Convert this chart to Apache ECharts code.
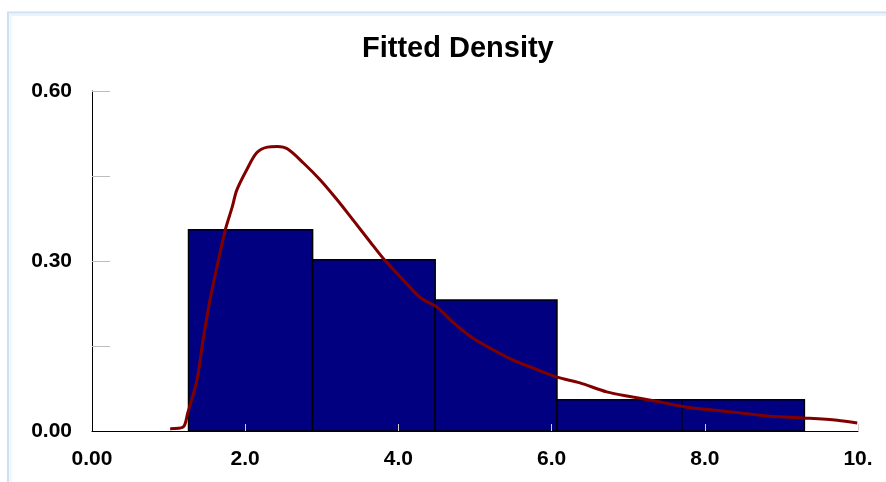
<!DOCTYPE html>
<html>
<head>
<meta charset="utf-8">
<script src="https://cdn.jsdelivr.net/npm/echarts@6/dist/echarts.min.js"></script>
<style>
html,body{margin:0;padding:0;background:#fff;}
#chart{width:886px;height:482px;}
</style>
</head>
<body>
<div id="chart"></div>
<script>
// ---- data ----
var titleText = 'Fitted Density';
var binEdges = [1.26, 2.88, 4.48, 6.07, 7.70, 9.30];
var binHeights = [0.355, 0.302, 0.231, 0.055, 0.055];
var curveX = [1.02, 1.19, 1.25, 1.37, 1.45, 1.54, 1.63, 1.74, 1.83, 1.89, 2.02, 2.15, 2.29, 2.42, 2.55, 2.76, 2.98, 3.20, 3.41, 3.63, 3.80, 4.06, 4.28, 4.50, 4.71, 4.97, 5.24, 5.50, 5.76, 6.07, 6.37, 6.72, 7.06, 7.42, 7.77, 8.11, 8.46, 8.85, 9.28, 9.73, 9.99];
var curveY = [0.004, 0.007, 0.032, 0.090, 0.161, 0.231, 0.289, 0.355, 0.395, 0.425, 0.461, 0.491, 0.501, 0.502, 0.498, 0.473, 0.443, 0.408, 0.372, 0.334, 0.305, 0.267, 0.236, 0.219, 0.192, 0.164, 0.143, 0.125, 0.111, 0.095, 0.085, 0.069, 0.060, 0.051, 0.042, 0.037, 0.032, 0.026, 0.023, 0.019, 0.014];
var xTickValues = [0, 2, 4, 6, 8, 10];
var xTickLabels = ['0.00', '2.0', '4.0', '6.0', '8.0', '10.'];
var yTickValues = [0, 0.3, 0.6];
var yTickLabels = ['0.00', '0.30', '0.60'];
var yMinorTickValues = [0.15, 0.3, 0.45, 0.6];
var xMinorTickValues = [2, 4, 6, 8, 10];

// ---- build ----
var barData = [];
for (var i = 0; i < binHeights.length; i++) {
  barData.push([binEdges[i], binEdges[i + 1], binHeights[i]]);
}
var curveData = curveX.map(function (x, i) { return [x, curveY[i]]; });
function lookup(vals, labels, v) {
  for (var i = 0; i < vals.length; i++) {
    if (Math.abs(vals[i] - v) < 1e-6) return labels[i];
  }
  return '';
}

var labelFont = {fontFamily: 'Liberation Sans', fontWeight: 'bold', fontSize: 21, color: '#000'};

var chart = echarts.init(document.getElementById('chart'));
chart.setOption({
  animation: false,
  backgroundColor: '#fff',
  title: {
    text: titleText,
    left: 357,
    top: 29,
    textStyle: {fontFamily: 'Liberation Sans', fontWeight: 'bold', fontSize: 29, color: '#000'}
  },
  graphic: [
    {type: 'rect', shape: {x: 8, y: 12.5, width: 1000, height: 1000}, style: {fill: 'none', stroke: '#cfe0f1', lineWidth: 2}, silent: true, z: -10},
    {type: 'rect', shape: {x: 10.5, y: 15, width: 1000, height: 1000}, style: {fill: 'none', stroke: '#eaf3fc', lineWidth: 2}, silent: true, z: -10}
  ],
  grid: {left: 92, right: 28, top: 91, bottom: 51, containLabel: false},
  xAxis: {
    type: 'value', min: 0, max: 10, interval: 2, z: 5,
    axisLine: {show: true, lineStyle: {color: '#000', width: 1}},
    axisTick: {show: true, inside: true, length: 7, customValues: xMinorTickValues, lineStyle: {color: '#d0d0d0', width: 1}},
    splitLine: {show: false},
    axisLabel: Object.assign({margin: 18, customValues: xTickValues, formatter: function (v) { return lookup(xTickValues, xTickLabels, v); }}, labelFont)
  },
  yAxis: {
    type: 'value', min: 0, max: 0.6, interval: 0.15,
    axisLine: {show: true, lineStyle: {color: '#000', width: 1}},
    axisTick: {show: true, inside: true, length: 18, customValues: yMinorTickValues, lineStyle: {color: '#bdbdbd', width: 1}},
    splitLine: {show: false},
    axisLabel: Object.assign({margin: 20, customValues: yTickValues, formatter: function (v) { return lookup(yTickValues, yTickLabels, v); }}, labelFont)
  },
  series: [
    {
      type: 'custom',
      data: barData,
      encode: {x: [0, 1], y: 2},
      renderItem: function (params, api) {
        var p0 = api.coord([api.value(0), api.value(2)]);
        var p1 = api.coord([api.value(1), 0]);
        return {
          type: 'rect',
          shape: {x: p0[0], y: p0[1], width: p1[0] - p0[0], height: p1[1] - p0[1]},
          style: {fill: '#000080', stroke: '#000', lineWidth: 1.5}
        };
      },
      z: 2
    },
    {
      type: 'line',
      data: curveData,
      smooth: 0.3,
      showSymbol: false,
      symbol: 'none',
      lineStyle: {color: '#800000', width: 3},
      z: 6
    }
  ]
});
</script>
</body>
</html>
